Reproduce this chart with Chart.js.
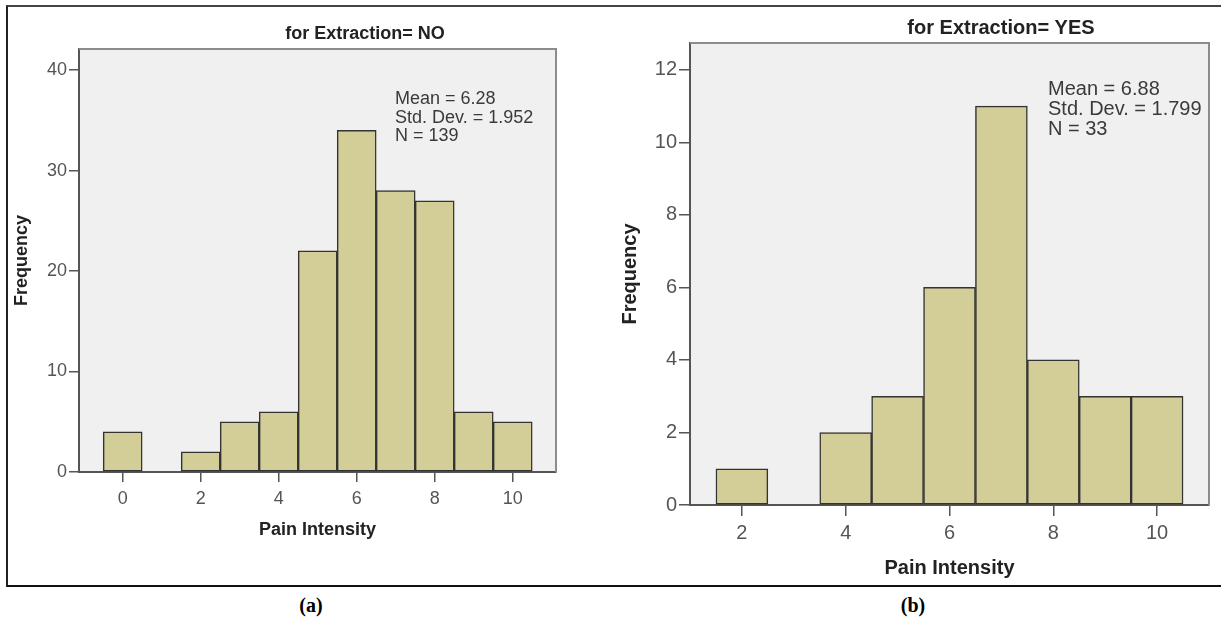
<!DOCTYPE html>
<html>
<head>
<meta charset="utf-8">
<script src="https://cdn.jsdelivr.net/npm/chart.js@4.4.1/dist/chart.umd.min.js"></script>
<style>
  html, body { margin: 0; padding: 0; background: #fff; }
  #page { position: relative; width: 1221px; height: 620px; overflow: hidden; }
  #frame { position: absolute; left: 6px; top: 5px; width: 1215px; height: 582px; box-sizing: border-box;
    border-top: 2px solid #444; border-left: 2px solid #222; border-bottom: 2px solid #111; }
  canvas { position: absolute; }
  .cap { position: absolute; transform: translate(-50%, -50%);
    font: bold 20px "Liberation Serif", "Times New Roman", serif; color: #000; }
</style>
</head>
<body>
<div id="page">
  <div id="frame"></div>
  <canvas id="histA" width="590" height="570" style="left:8px;top:8px"></canvas>
  <canvas id="histB" width="611" height="580" style="left:610px;top:8px"></canvas>
  <div class="cap" style="left:311px;top:605px">(a)</div>
  <div class="cap" style="left:913px;top:605px">(b)</div>
</div>
<script>
// data
const painA = [0, 1, 2, 3, 4, 5, 6, 7, 8, 9, 10];
const freqA = [4, 0, 2, 5, 6, 22, 34, 28, 27, 6, 5];
const xTicksA = [0, 2, 4, 6, 8, 10];
const yTicksA = [0, 10, 20, 30, 40];
const statsA = ['Mean = 6.28', 'Std. Dev. = 1.952', 'N = 139'];

const painB = [2, 3, 4, 5, 6, 7, 8, 9, 10];
const freqB = [1, 0, 2, 3, 6, 11, 4, 3, 3];
const xTicksB = [2, 4, 6, 8, 10];
const yTicksB = [0, 2, 4, 6, 8, 10, 12];
const statsB = ['Mean = 6.88', 'Std. Dev. = 1.799', 'N = 33'];

const FONT = '"Liberation Sans", Arial, sans-serif';

// plot background, top/right frame, title and the stats box
const decor = {
  id: 'decor',
  beforeDraw(chart, args, o) {
    const a = chart.chartArea, c = chart.ctx;
    c.save();
    c.fillStyle = '#f0f0f0';
    c.fillRect(a.left, a.top, a.right - a.left, a.bottom - a.top);
    c.restore();
  },
  afterDraw(chart, args, o) {
    const a = chart.chartArea, c = chart.ctx;
    c.save();
    c.strokeStyle = '#8c8c8c';
    c.lineWidth = 2;
    c.beginPath();
    c.moveTo(a.left, a.top);
    c.lineTo(a.right, a.top);
    c.lineTo(a.right, a.bottom);
    c.stroke();

    c.fillStyle = '#222';
    c.textAlign = 'center';
    c.textBaseline = 'middle';
    c.font = 'bold ' + o.titleSize + 'px ' + FONT;
    c.fillText(o.title, a.left + o.titleDx, a.top + o.titleDy);

    c.fillStyle = '#3a3a3a';
    c.textAlign = 'left';
    c.font = o.statSize + 'px ' + FONT;
    o.stats.forEach((t, i) => c.fillText(t, a.left + o.statDx, a.top + o.statDy + i * o.statGap));
    c.restore();
  }
};

function histogram(id, pain, freq, xTicks, yTicks, s) {
  const ctx = document.getElementById(id).getContext('2d');
  return new Chart(ctx, {
    type: 'bar',
    data: {
      datasets: [{
        data: pain.map((p, i) => ({ x: p, y: freq[i] || null })),
        backgroundColor: '#d3ce97',
        borderColor: '#333',
        borderWidth: 1.5,
        borderSkipped: false,
        barPercentage: 1,
        categoryPercentage: 1
      }]
    },
    options: {
      responsive: false,
      animation: false,
      events: [],
      layout: { padding: s.pad },
      plugins: {
        legend: { display: false },
        tooltip: { enabled: false },
        decor: s.decor
      },
      scales: {
        x: {
          type: 'linear',
          offset: false,
          min: s.xMin,
          max: s.xMax,
          afterBuildTicks: sc => { sc.ticks = xTicks.map(v => ({ value: v })); },
          afterFit: sc => { sc.height = s.xH; },
          grid: { offset: false, drawOnChartArea: false, drawTicks: true, tickLength: s.tick, color: '#555', lineWidth: 1.5 },
          border: { display: true, color: '#555', width: 2 },
          ticks: { color: '#555', padding: s.xPad, maxRotation: 0, font: { family: FONT, size: s.tickSize } },
          title: { display: true, text: 'Pain Intensity', color: '#222', padding: { top: 4, bottom: 4 },
            font: { family: FONT, size: s.axisSize, weight: 'bold' } }
        },
        y: {
          min: 0,
          max: s.yMax,
          afterBuildTicks: sc => { sc.ticks = yTicks.map(v => ({ value: v })); },
          afterFit: sc => { sc.width = s.yW; },
          grid: { drawOnChartArea: false, drawTicks: true, tickLength: s.tick, color: '#555', lineWidth: 1.5 },
          border: { display: true, color: '#555', width: 2 },
          ticks: { color: '#555', padding: 2, font: { family: FONT, size: s.tickSize } },
          title: { display: true, text: 'Frequency', color: '#222', padding: { top: s.yTitlePad, bottom: 4 },
            font: { family: FONT, size: s.axisSize, weight: 'bold' } }
        }
      }
    },
    plugins: [decor]
  });
}

histogram('histA', painA, freqA, xTicksA, yTicksA, {
  pad: { left: 0, top: 41, right: 42, bottom: 33 },
  xMin: -1.12, xMax: 11.11, yMax: 42.1,
  xH: 73, yW: 71, tick: 10, xPad: 6, yTitlePad: 3,
  tickSize: 18, axisSize: 18,
  decor: { title: 'for Extraction= NO', titleSize: 18, titleDx: 286, titleDy: -15,
    stats: statsA, statSize: 18, statDx: 316, statDy: 50.5, statGap: 18.5 }
});

histogram('histB', painB, freqB, xTicksB, yTicksB, {
  pad: { left: 0, top: 35, right: 12, bottom: 4 },
  xMin: 1.0, xMax: 11.0, yMax: 12.74,
  xH: 79, yW: 80, tick: 11, xPad: 5, yTitlePad: 8,
  tickSize: 20, axisSize: 20,
  decor: { title: 'for Extraction= YES', titleSize: 20, titleDx: 311, titleDy: -15,
    stats: statsB, statSize: 20, statDx: 358, statDy: 46, statGap: 20.3 }
});
</script>
</body>
</html>
